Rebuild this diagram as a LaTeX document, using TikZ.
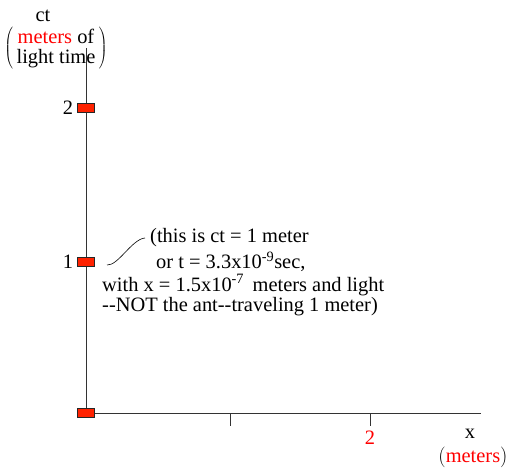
\documentclass[tikz,border=0pt]{standalone}
\usepackage{fontspec}
\setmainfont{Liberation Serif}
\usetikzlibrary{positioning}
\definecolor{boxred}{RGB}{255,34,0}
\tikzset{
  tickbox/.style={draw=black!85, fill=boxred, minimum width=17bp, minimum height=9bp, inner sep=0pt, line width=0.6pt},
  lbl/.style={font=\fontsize{20.5}{20}\selectfont, inner sep=0pt},
  axis/.style={line width=0.8pt, black!80},
}
\begin{document}
\begin{tikzpicture}[x=1bp,y=-1bp]
\useasboundingbox (0,0) rectangle (508,469);
% axes
\coordinate (O) at (86,413);
\coordinate (ytop) at (86,48);
\coordinate (xend) at (481,413);
\draw[axis] (O) -- (ytop);
\draw[axis] (O) -- (xend);
\coordinate (t1) at (230,413);
\coordinate (t1b) at (230,426);
\coordinate (t2) at (370,413);
\coordinate (t2b) at (370,426);
\draw[axis] (t1) -- (t1b);
\draw[axis] (t2) -- (t2b);
% marks on the ct axis
\node[tickbox] (b0) at (O) {};
\node[tickbox] (b1) at (86,262) {};
\node[tickbox] (b2) at (86,108) {};
\node[lbl, left=4bp of b1] (l1) {1};
\node[lbl, left=4bp of b2] (l2) {2};
\node[lbl, text=red] (x2) at (370,438) {2};
% axis labels
\node[lbl] (ctlab) at (43,16) {ct};
\node[lbl] (ctunit) at (56,48) {$\left(\vcenter{\hbox{\begin{tabular}{@{\,}c@{\,}}\rule{0pt}{17pt}\textcolor{red}{meters} of\\ light time\rule[-6pt]{0pt}{6pt}\end{tabular}}}\right)$};
\node[lbl] (xlab) at (470,434) {x};
\node[lbl] (xunit) at (473,457) {$\bigl(\mbox{\textcolor{red}{meters}}\bigr)$};
% note
\node[lbl, anchor=west] (n1) at (150,238) {(this is ct = 1 meter};
\node[lbl, anchor=west] (n2) at (156,262) {or t = 3.3x10\textsuperscript{-9}sec,};
\node[lbl, anchor=west] (n3) at (102,285) {with x = 1.5x10\textsuperscript{-7}\, meters and light};
\node[lbl, anchor=west] (n4) at (102,307) {-{}-NOT the ant-{}-traveling 1 meter)};
\coordinate (c0) at (107,265);
\coordinate (c1) at (145,238);
\draw[line width=0.6pt] (c0) .. controls (118,266) and (132,239) .. (c1);
\end{tikzpicture}
\end{document}
